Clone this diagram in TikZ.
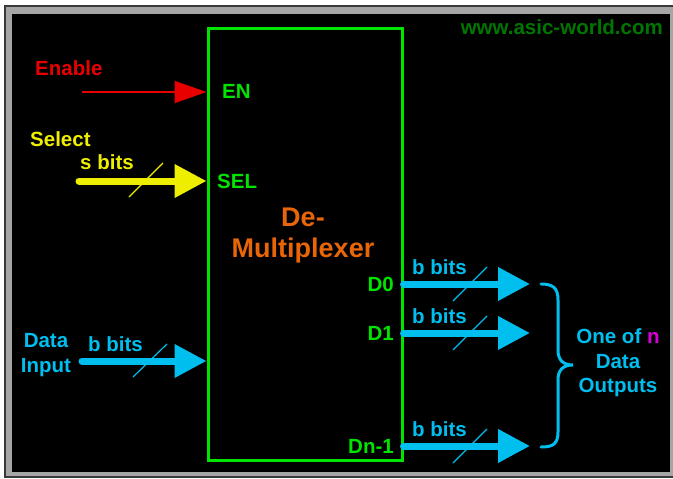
\documentclass[tikz,border=0pt]{standalone}
\usepackage{fontspec}
\setmainfont{Liberation Sans}
\usetikzlibrary{positioning,arrows.meta}

\definecolor{blockgreen}{RGB}{0,228,0}
\definecolor{webgreen}{RGB}{0,118,0}
\definecolor{enred}{RGB}{232,0,0}
\definecolor{selyellow}{RGB}{238,238,0}
\definecolor{buscyan}{RGB}{0,190,238}
\definecolor{titleorange}{RGB}{232,102,8}
\definecolor{nmagenta}{RGB}{214,0,214}

\begin{document}
\begin{tikzpicture}[x=1pt, y=-1pt,
  lbl/.style={font=\fontsize{20.5}{24.5}\selectfont\bfseries, inner sep=0pt, align=center},
  port/.style={lbl, text=blockgreen},
  bus/.style={line width=7pt, line cap=round, -{Triangle[length=32pt,width=32pt]}},
  busmark/.style={line width=1.2pt},
  block/.style={draw=blockgreen, line width=3pt, minimum width=194pt, minimum height=432pt, inner sep=0pt}
]
\useasboundingbox (0,0) rectangle (673,479);

% --- Frame ---
\fill[white] (0,0) rectangle (673,479);
\fill[gray!45!black] (4,5) rectangle (673,478);
\fill[gray!70] (6,7) rectangle (673,476);
\fill[black] (12,14) rectangle (670,472);

\node[lbl, anchor=east, text=webgreen] (web) at (663,27) {www.asic-world.com};

% --- Block ---
\node[block] (demux) at (305,244) {};
\node[lbl, text=titleorange, font=\fontsize{27}{31}\selectfont\bfseries] (title) at (303,236) {De-\\Multiplexer};

% --- Enable ---
\node[lbl, anchor=west, text=enred] (enable) at (35,68) {Enable};
\node[port, anchor=west] (enp) at (222,91) {EN};
\coordinate (enin) at (82,92);
\coordinate (en) at (demux.west |- 0,92);
\draw[enred, line width=1.6pt, -{Triangle[length=32pt,width=22pt]}] (enin) -- (en);

% --- Select ---
\node[lbl, anchor=west, text=selyellow] (select) at (30,139) {Select};
\node[lbl, anchor=west, text=selyellow] (sbits) at (80,162) {s bits};
\node[port, anchor=west] (selp) at (217,181) {SEL};
\coordinate (selin) at (79,181);
\coordinate (sel) at (demux.west |- 0,181);
\draw[bus, selyellow] (selin) -- (sel);
\draw[busmark, selyellow] (129,197) -- (163,163);

% --- Data input ---
\node[lbl, text=buscyan] (datain) at (46,355) {Data\\Input};
\node[lbl, anchor=west, text=buscyan] (bin) at (88,344) {b bits};
\coordinate (din) at (82,361);
\coordinate (dport) at (demux.west |- 0,361);
\draw[bus, buscyan] (din) -- (dport);
\draw[busmark, buscyan] (133,377) -- (167,344);

% --- Outputs ---
\foreach \lab/\yy [count=\i] in {D0/284,D1/333,Dn-1/446} {
  \node[port, anchor=east] (d\i) at (394,\yy) {\lab};
  \coordinate (out\i) at (demux.east |- 0,\yy);
  \coordinate (tip\i) at (530,\yy);
  \draw[bus, buscyan] (out\i) -- (tip\i);
  \draw[busmark, buscyan] (453,\yy+17) -- (487,\yy-17);
  \node[lbl, anchor=west, text=buscyan] (b\i) at (412,\yy-17) {b bits};
}

% --- Brace ---
\draw[buscyan, line width=3pt, line cap=round]
  (541,284) .. controls (553,284) and (558,288) .. (558,300)
  -- (558,350) .. controls (558,360) and (563,365) .. (573,365)
  .. controls (563,365) and (558,370) .. (558,380)
  -- (558,432) .. controls (558,444) and (553,447) .. (541,447);
\node[lbl, text=buscyan] (outs) at (618,363) {One of {\color{nmagenta}n}\\Data\\Outputs};

\end{tikzpicture}
\end{document}
